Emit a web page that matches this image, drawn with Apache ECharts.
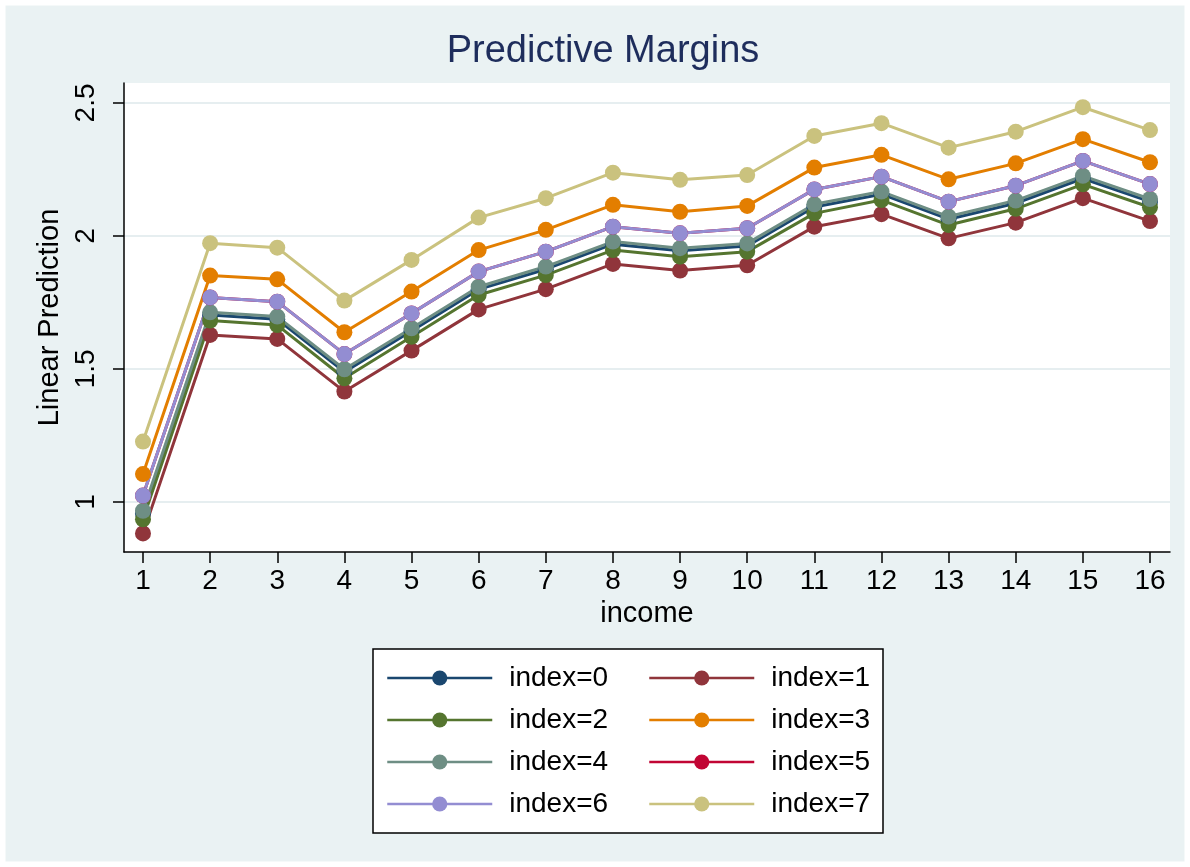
<!DOCTYPE html>
<html>
<head>
<meta charset="utf-8">
<script src="https://cdn.jsdelivr.net/npm/echarts@6/dist/echarts.min.js"></script>
<style>html,body{margin:0;padding:0;background:#fff}#c{width:1190px;height:867px}</style>
</head>
<body>
<div id="c"></div>
<script>
const income = [1,2,3,4,5,6,7,8,9,10,11,12,13,14,15,16];
const xTicks = [1,2,3,4,5,6,7,8,9,10,11,12,13,14,15,16];
const yTicks = [1, 1.5, 2, 2.5];
const seriesNames = ['index=0','index=1','index=2','index=3','index=4','index=5','index=6','index=7'];
const idx0 = [0.957,1.703,1.687,1.489,1.643,1.799,1.875,1.969,1.944,1.962,2.109,2.157,2.063,2.123,2.216,2.129];
const idx1 = [0.882,1.628,1.613,1.415,1.569,1.724,1.800,1.895,1.870,1.890,2.035,2.082,1.991,2.050,2.142,2.056];
const idx2 = [0.935,1.682,1.665,1.465,1.621,1.778,1.853,1.947,1.922,1.941,2.085,2.135,2.041,2.102,2.194,2.108];
const idx3 = [1.105,1.851,1.837,1.638,1.791,1.947,2.023,2.117,2.091,2.113,2.257,2.305,2.213,2.273,2.364,2.277];
const idx4 = [0.967,1.713,1.697,1.499,1.653,1.809,1.885,1.979,1.954,1.972,2.119,2.167,2.073,2.133,2.226,2.139];
const idx5 = [1.024,1.769,1.753,1.556,1.709,1.866,1.941,2.035,2.010,2.029,2.175,2.223,2.129,2.189,2.282,2.195];
const idx6 = [1.024,1.769,1.753,1.556,1.709,1.866,1.941,2.035,2.010,2.029,2.175,2.223,2.129,2.189,2.282,2.195];
const idx7 = [1.227,1.973,1.956,1.757,1.910,2.069,2.142,2.238,2.211,2.229,2.376,2.424,2.332,2.392,2.484,2.398];
const allData = [idx0, idx1, idx2, idx3, idx4, idx5, idx6, idx7];
const colors = ['#1a476f','#90353b','#55752f','#e37e00','#6e8e84','#c10534','#938dd2','#cac27e'];

const FONT = '"Liberation Sans", Arial, Helvetica, sans-serif';
const chart = echarts.init(document.getElementById('c'), null, {renderer: 'canvas'});

const series = seriesNames.map((n, i) => ({
  name: n,
  type: 'line',
  data: income.map((x, j) => [x, allData[i][j]]),
  symbol: 'circle',
  symbolSize: 16,
  showSymbol: true,
  lineStyle: {width: 3, color: colors[i]},
  itemStyle: {color: colors[i], borderWidth: 0},
  emphasis: {disabled: true},
  animation: false
}));

const legendCommon = {
  orient: 'vertical',
  itemWidth: 105,
  itemHeight: 19,
  itemGap: 14,
  padding: 0,
  selectedMode: false,
  lineStyle: {width: 2.5},
  textStyle: {fontFamily: FONT, fontSize: 28, color: '#000', lineHeight: 28, padding: [0,0,0,12]}
};

chart.setOption({
  backgroundColor: '#eaf2f3',
  animation: false,
  color: colors,
  title: {
    text: 'Predictive Margins',
    left: 603,
    top: 33,
    padding: 0,
    textAlign: 'center',
    textStyle: {fontFamily: FONT, fontSize: 38, fontWeight: 'normal', color: '#1e2d5c'}
  },
  graphic: [
    {type: 'rect', z: 100, silent: true, shape: {x: 0, y: 0, width: 1190, height: 867},
     style: {fill: 'none', stroke: '#ffffff', lineWidth: 11}},
    {type: 'rect', z: 0, silent: true, shape: {x: 373, y: 649, width: 510, height: 184},
     style: {fill: '#ffffff', stroke: '#000000', lineWidth: 1.5}}
  ],
  legend: [
    Object.assign({}, legendCommon, {left: 386, top: 664, data: ['index=0','index=2','index=4','index=6']}),
    Object.assign({}, legendCommon, {left: 648, top: 664, data: ['index=1','index=3','index=5','index=7']})
  ],
  grid: {
    left: 124, right: 20, top: 83, bottom: 315,
    show: true, backgroundColor: '#ffffff', borderWidth: 0
  },
  xAxis: {
    type: 'value',
    min: 0.717, max: 16.298,
    name: 'income',
    nameLocation: 'middle',
    nameGap: 47,
    nameTextStyle: {fontFamily: FONT, fontSize: 29, color: '#000'},
    axisLine: {show: true, onZero: false, lineStyle: {color: '#000', width: 1.5}},
    axisTick: {show: true, length: 11, lineStyle: {color: '#000', width: 1.5}, customValues: xTicks},
    axisLabel: {fontFamily: FONT, fontSize: 28, color: '#000', margin: 15, customValues: xTicks},
    splitLine: {show: false}
  },
  yAxis: {
    type: 'value',
    min: 0.812, max: 2.575,
    name: 'Linear Prediction',
    nameLocation: 'middle',
    nameRotate: 90,
    nameGap: 58,
    nameTextStyle: {fontFamily: FONT, fontSize: 29, color: '#000'},
    axisLine: {show: true, onZero: false, lineStyle: {color: '#000', width: 1.5}},
    axisTick: {show: true, length: 11, lineStyle: {color: '#000', width: 1.5}, customValues: yTicks},
    axisLabel: {fontFamily: FONT, fontSize: 28, color: '#000', margin: 24, rotate: 90, customValues: yTicks,
      formatter: v => String(v)},
    splitLine: {show: true, lineStyle: {color: '#e6eef0', width: 2}}
  },
  series: series
});
</script>
</body>
</html>
